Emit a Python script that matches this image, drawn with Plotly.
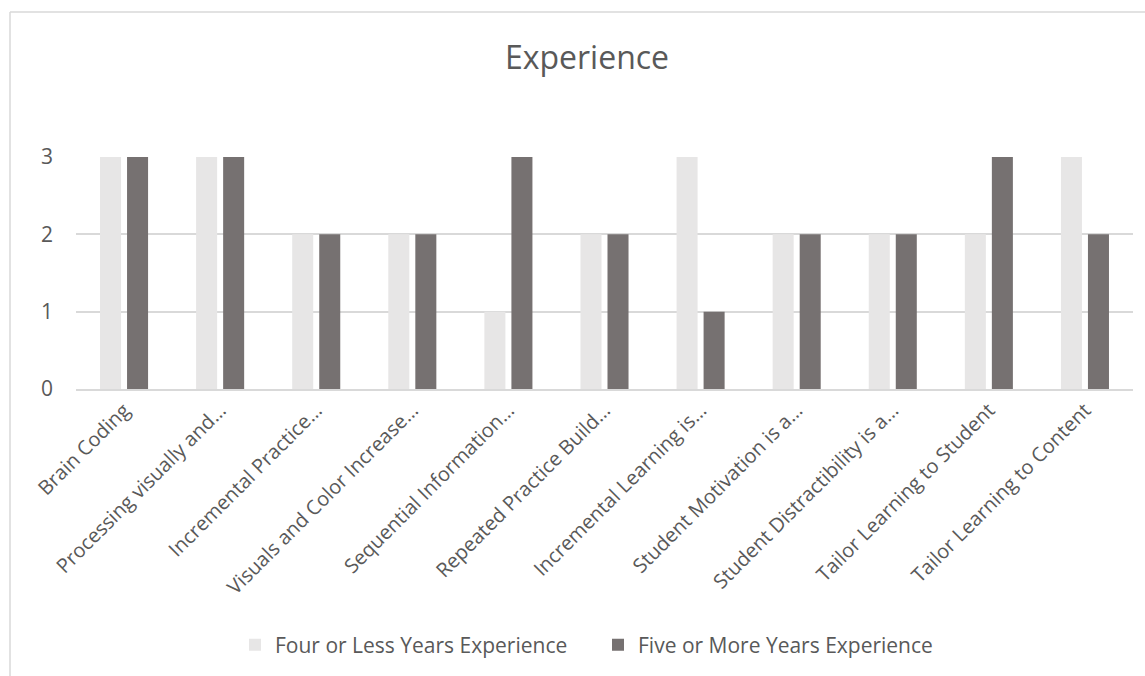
import plotly.graph_objects as go

categories = [
    "Brain Coding",
    "Processing visually and…",
    "Incremental Practice…",
    "Visuals and Color Increase…",
    "Sequential Information…",
    "Repeated Practice Build…",
    "Incremental Learning is…",
    "Student Motivation is a…",
    "Student Distractibility is a…",
    "Tailor Learning to Student",
    "Tailor Learning to Content",
]
four_or_less = [3, 3, 2, 2, 1, 2, 3, 2, 2, 2, 3]
five_or_more = [3, 3, 2, 2, 3, 2, 1, 2, 2, 3, 2]
y_ticks = [0, 1, 2, 3]

W, H = 1145, 676
L, R, T, B = 76, 12, 157, 287
pw, ph = W - L - R, H - T - B

def px_x(x):
    return (x - L) / pw

def px_y(y):
    return (H - B - y) / ph

txt = "#595959"
font = "Open Sans"

fig = go.Figure()
fig.add_trace(go.Bar(x=categories, y=four_or_less, name="Four or Less Years Experience",
                     marker=dict(color="#E7E6E6", line=dict(width=0))))
fig.add_trace(go.Bar(x=categories, y=five_or_more, name="Five or More Years Experience",
                     marker=dict(color="#767171", line=dict(width=0))))

fig.update_layout(
    width=W, height=H,
    margin=dict(l=L, r=R, t=T, b=B, autoexpand=False),
    paper_bgcolor="white", plot_bgcolor="white",
    barmode="group", bargap=0.4375, bargroupgap=0.222,
    font=dict(family=font, color=txt, size=20),
    title=dict(text="Experience", x=587 / W, xanchor="center",
               y=1 - 58 / H, yanchor="middle",
               font=dict(size=32, color=txt, family=font)),
    showlegend=True,
    legend=dict(orientation="h", x=px_x(235), xanchor="left", y=px_y(645), yanchor="middle",
                font=dict(size=21, color=txt), itemwidth=30, traceorder="normal",
                entrywidth=318, bgcolor="rgba(0,0,0,0)"),
    xaxis=dict(tickangle=-45, showgrid=False, showline=True, linecolor="#D9D9D9",
               linewidth=1.5, ticks="", tickfont=dict(size=20, color=txt), fixedrange=True),
    yaxis=dict(range=[0, 3], tickvals=y_ticks, showgrid=True, gridcolor="#D9D9D9",
               gridwidth=1.5, zeroline=False, showline=False, ticks="",
               tickfont=dict(size=21, color=txt), ticklabelstandoff=22, fixedrange=True),
    shapes=[
        dict(type="line", xref="paper", yref="paper", x0=px_x(10), x1=px_x(1160),
             y0=px_y(12), y1=px_y(12), line=dict(color="#D9D9D9", width=1.5)),
        dict(type="line", xref="paper", yref="paper", x0=px_x(10), x1=px_x(10),
             y0=px_y(12), y1=px_y(690), line=dict(color="#D9D9D9", width=1.5)),
    ],
)

fig.write_html("out.html", config={"displayModeBar": False})

with open("out.html", "r", encoding="utf-8") as f:
    html = f.read()
html = html.replace("<body>", "<body style=\"margin:0;overflow:hidden\">", 1)
with open("out.html", "w", encoding="utf-8") as f:
    f.write(html)
